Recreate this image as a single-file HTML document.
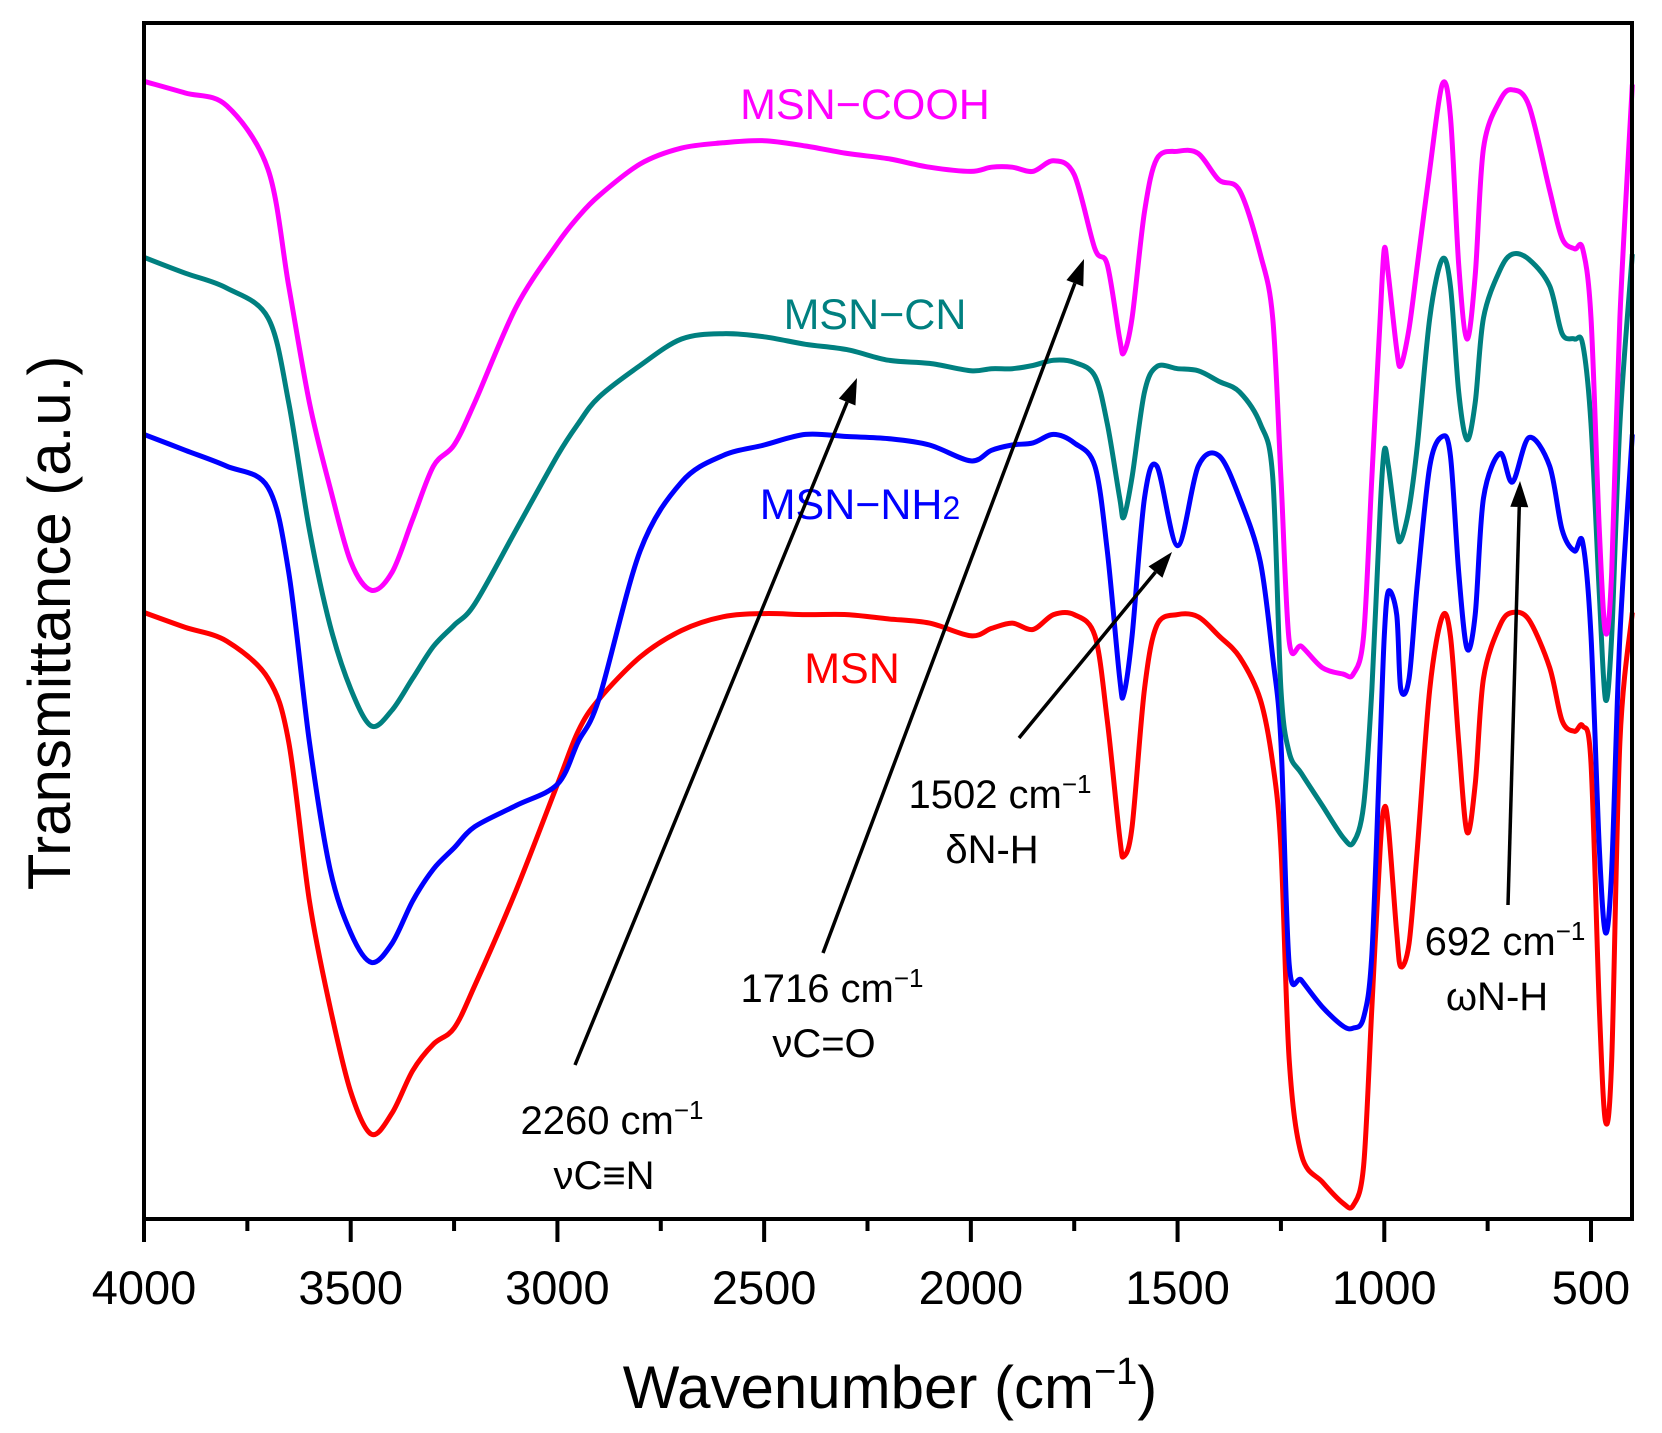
<!DOCTYPE html>
<html><head><meta charset="utf-8"><style>
html,body{margin:0;padding:0;background:#fff}
svg{display:block;font-family:"Liberation Sans",sans-serif}
</style></head><body>
<svg id="chart" width="1662" height="1433" viewBox="0 0 1662 1433">
<g id="series"></g>
<rect x="144" y="23" width="1488" height="1196" fill="none" stroke="#000" stroke-width="4"/>
<g id="xaxis"></g>
<text x="890" y="1408" font-size="60" text-anchor="middle">Wavenumber (cm<tspan dy="-24" font-size="38">−1</tspan><tspan dy="24">)</tspan></text>
<text transform="translate(70,623) rotate(-90)" font-size="60" text-anchor="middle">Transmittance (a.u.)</text>
<text x="865" y="119" font-size="43" fill="#ff00ff" text-anchor="middle">MSN−COOH</text>
<text x="875" y="329" font-size="43" fill="#008080" text-anchor="middle">MSN−CN</text>
<text x="860" y="519" font-size="43" fill="#0000ff" text-anchor="middle">MSN−NH<tspan font-size="32">2</tspan></text>
<text x="852" y="683" font-size="43" fill="#ff0000" text-anchor="middle">MSN</text>
<g id="annot"></g>
</svg>
<script>
const wn=[4000,3900,3800,3700,3650,3600,3550,3500,3450,3400,3350,3300,3250,3200,3100,3000,2950,2900,2800,2700,2600,2500,2400,2300,2200,2100,2000,1950,1900,1850,1800,1750,1700,1670,1640,1630,1610,1580,1550,1500,1450,1400,1350,1300,1270,1250,1230,1200,1150,1100,1075,1050,1030,1010,1000,990,970,960,940,920,890,860,840,820,800,780,760,720,690,650,600,570,540,520,500,480,465,450,430,400];
const msn=[578,592,605,640,700,850,950,1030,1070,1050,1010,985,970,930,840,740,690,660,620,595,582,579,580,580,584,588,600,593,588,594,580,580,600,680,790,808,780,650,590,580,582,600,620,660,720,800,1000,1090,1115,1135,1137,1100,950,800,762,780,880,912,890,800,650,582,600,700,785,740,640,590,578,585,630,680,690,685,720,950,1058,1000,700,578];
const nh2=[410,425,440,460,540,700,820,880,908,890,850,820,800,780,760,740,700,660,520,455,430,420,410,412,414,420,435,425,420,418,410,418,440,520,640,655,600,470,440,515,440,430,470,530,620,700,910,925,950,968,970,960,900,700,600,558,580,650,640,550,440,412,430,540,612,580,470,428,455,413,440,500,520,512,600,800,880,820,600,410];
const cn=[243,258,272,300,380,500,590,650,685,670,640,610,590,570,500,430,400,375,345,320,315,318,325,330,340,343,350,348,348,345,340,342,355,400,470,488,450,370,346,348,350,360,370,400,450,650,710,730,760,790,795,760,650,480,425,440,500,510,480,420,300,245,270,370,415,380,300,255,240,245,270,315,320,325,400,560,660,600,400,240];
const cooh=[77,88,100,160,270,380,460,530,557,540,490,440,420,380,290,230,205,185,155,140,135,133,138,145,150,158,162,158,158,162,152,165,235,250,320,333,300,200,150,143,145,170,180,240,300,450,605,610,630,636,636,600,450,300,235,260,330,345,310,250,160,80,110,250,320,260,140,95,85,100,180,225,235,235,300,500,597,540,300,80];
const xTicks=[4000,3500,3000,2500,2000,1500,1000,500];
const xMinor=[3750,3250,2750,2250,1750,1250,750];
const seriesNames=["msn","msn-nh2","msn-cn","msn-cooh"];
const seriesColors=["#ff0000","#0000ff","#008080","#ff00ff"];
const seriesData=[msn,nh2,cn,cooh];
const NS="http://www.w3.org/2000/svg";
function X(w){return 144+(4000-w)*(1591-144)/3500;}
function Y(v){return 23+(v-22)*1196/1128;}
function smoothPath(pts){
  let d='M'+pts[0][0].toFixed(1)+','+pts[0][1].toFixed(1);
  const k=0.16;
  for(let i=0;i<pts.length-1;i++){
    const p0=pts[Math.max(0,i-1)],p1=pts[i],p2=pts[i+1],p3=pts[Math.min(pts.length-1,i+2)];
    const c1x=p1[0]+(p2[0]-p0[0])*k,c1y=p1[1]+(p2[1]-p0[1])*k;
    const c2x=p2[0]-(p3[0]-p1[0])*k,c2y=p2[1]-(p3[1]-p1[1])*k;
    d+='C'+c1x.toFixed(1)+','+c1y.toFixed(1)+' '+c2x.toFixed(1)+','+c2y.toFixed(1)+' '+p2[0].toFixed(1)+','+p2[1].toFixed(1);
  }
  return d;
}
const sg=document.getElementById('series');
seriesData.forEach((d,i)=>{
  const p=document.createElementNS(NS,'path');
  p.setAttribute('d',smoothPath(wn.map((w,j)=>[X(w),Y(d[j])])));
  p.setAttribute('fill','none');p.setAttribute('stroke',seriesColors[i]);
  p.setAttribute('stroke-width','5');p.setAttribute('stroke-linejoin','round');
  
  
  sg.appendChild(p);
});
const xa=document.getElementById('xaxis');
xTicks.forEach(t=>{
  const l=document.createElementNS(NS,'line');
  l.setAttribute('x1',X(t));l.setAttribute('x2',X(t));l.setAttribute('y1',1219);l.setAttribute('y2',1242);
  l.setAttribute('stroke','#000');l.setAttribute('stroke-width','4');
  
  
  xa.appendChild(l);
  const tx=document.createElementNS(NS,'text');
  tx.setAttribute('x',X(t));tx.setAttribute('y',1304);tx.setAttribute('font-size','47');tx.setAttribute('text-anchor','middle');
  tx.textContent=t;
  
  
  xa.appendChild(tx);
});
xMinor.forEach(t=>{
  const l=document.createElementNS(NS,'line');
  l.setAttribute('x1',X(t));l.setAttribute('x2',X(t));l.setAttribute('y1',1219);l.setAttribute('y2',1231);
  l.setAttribute('stroke','#000');l.setAttribute('stroke-width','4');
  
  
  xa.appendChild(l);
});
const ann=[
 {x1:575,y1:1065,x2:857,y2:378,l1:"2260 cm",l2:"νC≡N",lx:612,ly:1134},
 {x1:823,y1:953,x2:1084,y2:259,l1:"1716 cm",l2:"νC=O",lx:832,ly:1002},
 {x1:1019,y1:738,x2:1172,y2:552,l1:"1502 cm",l2:"δN-H",lx:1000,ly:808},
 {x1:1508,y1:905,x2:1520,y2:481,l1:"692 cm",l2:"ωN-H",lx:1505,ly:955}
];
const ag=document.getElementById('annot');
ann.forEach(a=>{
  const dx=a.x2-a.x1,dy=a.y2-a.y1,L=Math.hypot(dx,dy),ux=dx/L,uy=dy/L;
  const bx=a.x2-ux*26,by=a.y2-uy*26;
  const l=document.createElementNS(NS,'line');
  l.setAttribute('x1',a.x1);l.setAttribute('y1',a.y1);l.setAttribute('x2',bx);l.setAttribute('y2',by);
  l.setAttribute('stroke','#000');l.setAttribute('stroke-width','3.5');
  
  
  ag.appendChild(l);
  const h=document.createElementNS(NS,'polygon');
  h.setAttribute('points',[a.x2+','+a.y2,(bx-uy*9)+','+(by+ux*9),(bx+uy*9)+','+(by-ux*9)].join(' '));
  
  
  ag.appendChild(h);
  const t=document.createElementNS(NS,'text');
  t.setAttribute('x',a.lx);t.setAttribute('y',a.ly);t.setAttribute('font-size','40');t.setAttribute('text-anchor','middle');
  t.innerHTML=a.l1+'<tspan dy="-15" font-size="26">−1</tspan>';
  
  
  ag.appendChild(t);
  const t2=document.createElementNS(NS,'text');
  t2.setAttribute('x',a.lx-8);t2.setAttribute('y',a.ly+55);t2.setAttribute('font-size','40');t2.setAttribute('text-anchor','middle');
  t2.textContent=a.l2;
  
  
  ag.appendChild(t2);
});
</script>
</body></html>
